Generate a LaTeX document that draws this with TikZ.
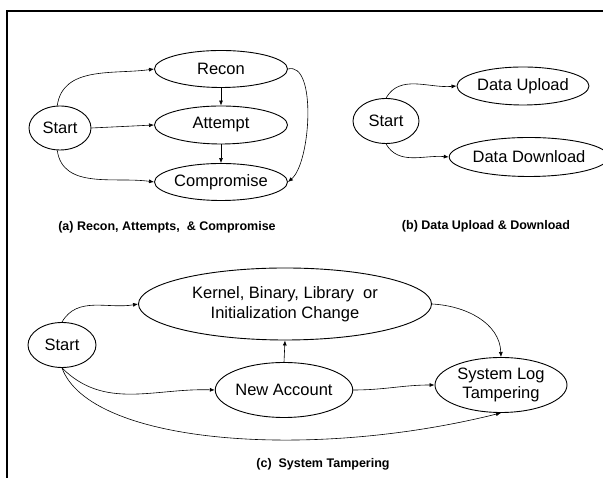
\documentclass[tikz,border=0pt]{standalone}
\usepackage{fontspec}
\setmainfont{Liberation Sans}
\usetikzlibrary{arrows.meta,shapes.geometric}
\tikzset{
  st/.style={ellipse,draw,line width=0.9pt,inner sep=0pt,align=center,
    font=\fontsize{16.5}{19.5}\selectfont},
  captext/.style={font=\fontsize{12.5}{15}\selectfont\bfseries,inner sep=0pt},
  con/.style={line width=0.6pt,-{Latex[length=5pt,width=4pt]}},
}
\begin{document}
\begin{tikzpicture}[x=1pt,y=1pt]
\useasboundingbox (0,0) rectangle (603,478);
\draw[line width=1.1pt] (7,0) -- (7,467) -- (603,467);
% (a)
\node[st,minimum width=62pt,minimum height=44pt] (sa) at (60,350) {Start};
\node[st,minimum width=133pt,minimum height=37pt] (rc) at (221,409) {Recon};
\node[st,minimum width=133pt,minimum height=38pt] (at) at (221,353) {Attempt};
\node[st,minimum width=133pt,minimum height=37pt] (cp) at (221,296) {Compromise};
\node[captext] (capa) at (167,251) {(a) Recon, Attempts,~ \& Compromise};
\draw[con] (sa.97) to[out=82,in=188] (rc.west);
\draw[con] (sa.east) -- (at.west);
\draw[con] (sa.263) to[out=-82,in=172] (cp.west);
\draw[con] (rc.south) -- (at.north);
\draw[con] (at.south) -- (cp.north);
\draw[con] (rc.east) to[out=15,in=40,out distance=30,in distance=30] (cp.east);
% (b)
\node[st,minimum width=66pt,minimum height=45pt] (sb) at (386,357) {Start};
\node[st,minimum width=132pt,minimum height=38pt] (up) at (523,392) {Data Upload};
\node[st,minimum width=132pt,minimum height=39pt] (dn) at (529,321) {Data Download};
\node[captext] (capb) at (486,252) {(b) Data Upload \& Download};
\draw[con] (sb.north) to[out=60,in=185] (up.west);
\draw[con] (sb.south) to[out=-60,in=175] (dn.west);
% (c)
\node[st,minimum width=68pt,minimum height=45pt] (sc) at (62,133) {Start};
\node[st,minimum width=293pt,minimum height=72pt] (kr) at (285,174) {Kernel, Binary, Library~ or\\Initialization Change};
\node[st,minimum width=133pt,minimum height=55pt] (na) at (284,88) {New Account};
\node[st,minimum width=132pt,minimum height=55pt] (sl) at (501,93) {System Log\\Tampering};
\node[captext] (capc) at (323,14) {(c)~ System Tampering};
\draw[con] (sc.north) to[out=60,in=190] (kr.west);
\draw[con] (sc.south) to[out=-45,in=178] (na.west);
\draw[con] (sc.south) to[out=-70,in=194,out distance=80,in distance=200] (sl.south);
\draw[con] (na.north) -- (kr.south);
\draw[con] (na.east) to[out=0,in=180] (sl.west);
\draw[con] (kr.east) to[out=-3,in=92] (sl.north);
\end{tikzpicture}
\end{document}
